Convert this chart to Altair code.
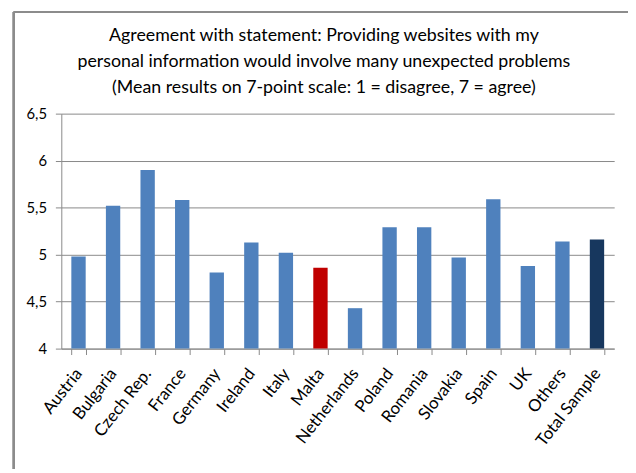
import altair as alt
import pandas as pd

countries = ["Austria", "Bulgaria", "Czech Rep.", "France", "Germany", "Ireland", "Italy",
             "Malta", "Netherlands", "Poland", "Romania", "Slovakia", "Spain", "UK",
             "Others", "Total Sample"]
means = [4.98, 5.52, 5.90, 5.58, 4.81, 5.13, 5.02, 4.86, 4.43, 5.29, 5.29, 4.97, 5.59,
         4.88, 5.14, 5.16]
groups = ["country"] * 7 + ["malta"] + ["country"] * 6 + ["others", "total"]
y_ticks = [4, 4.5, 5, 5.5, 6, 6.5]
title_lines = ["Agreement with statement: Providing websites with my",
               "personal information would involve many unexpected problems",
               "(Mean results on 7-point scale: 1 = disagree, 7 = agree)"]

df = pd.DataFrame({"country": countries, "mean": means, "group": groups,
                   "base": [4] * len(countries)})

FONT = "Lato, Roboto, sans-serif"

bars = alt.Chart(df).mark_bar().encode(
    x=alt.X("country:N", sort=countries,
            scale=alt.Scale(paddingInner=0.585, paddingOuter=0.29),
            axis=alt.Axis(title=None, labelAngle=-52, labelAlign="right",
                          labelBaseline="middle", labelFontSize=17, labelColor="#000000",
                          labelFont=FONT, labelPadding=16, tickBand="extent",
                          tickSize=6, tickColor="#888888", domainColor="#888888",
                          grid=False)),
    y=alt.Y("mean:Q",
            scale=alt.Scale(domain=[4, 6.5], zero=False, nice=False),
            axis=alt.Axis(title=None, values=y_ticks, format=".1~f",
                          labelExpr="replace(datum.label, '.', ',')",
                          labelFontSize=15, labelColor="#000000", labelFont=FONT,
                          labelPadding=9, tickSize=6, tickColor="#888888",
                          domainColor="#888888", gridColor="#888888", gridWidth=1)),
    y2="base:Q",
    color=alt.Color("group:N",
                    scale=alt.Scale(domain=["country", "malta", "others", "total"],
                                    range=["#4F81BD", "#C00000", "#4F81BD", "#17375E"]),
                    legend=None),
)

frame_left = alt.Chart(df).mark_rule(color="#8c8c8c", strokeWidth=2).encode(
    x=alt.value(-48), y=alt.value(-103), y2=alt.value(360))
frame_top = alt.Chart(df).mark_rule(color="#8c8c8c", strokeWidth=2).encode(
    x=alt.value(-48), x2=alt.value(580), y=alt.value(-103))

chart = alt.layer(frame_left, frame_top, bars).properties(
    width=560, height=238,
    autosize=alt.AutoSizeParams(type="none"),
    padding={"left": 54, "top": 104, "right": 14, "bottom": 123},
    title=alt.TitleParams(text=title_lines, anchor="middle", frame="group", dx=-14,
                          font=FONT, fontSize=18, fontWeight="normal",
                          color="#000000", lineHeight=26.5, offset=-87),
).configure_view(stroke=None).configure_axis(grid=True)

chart.save("out.html", embed_options={"renderer": "svg", "actions": False})
